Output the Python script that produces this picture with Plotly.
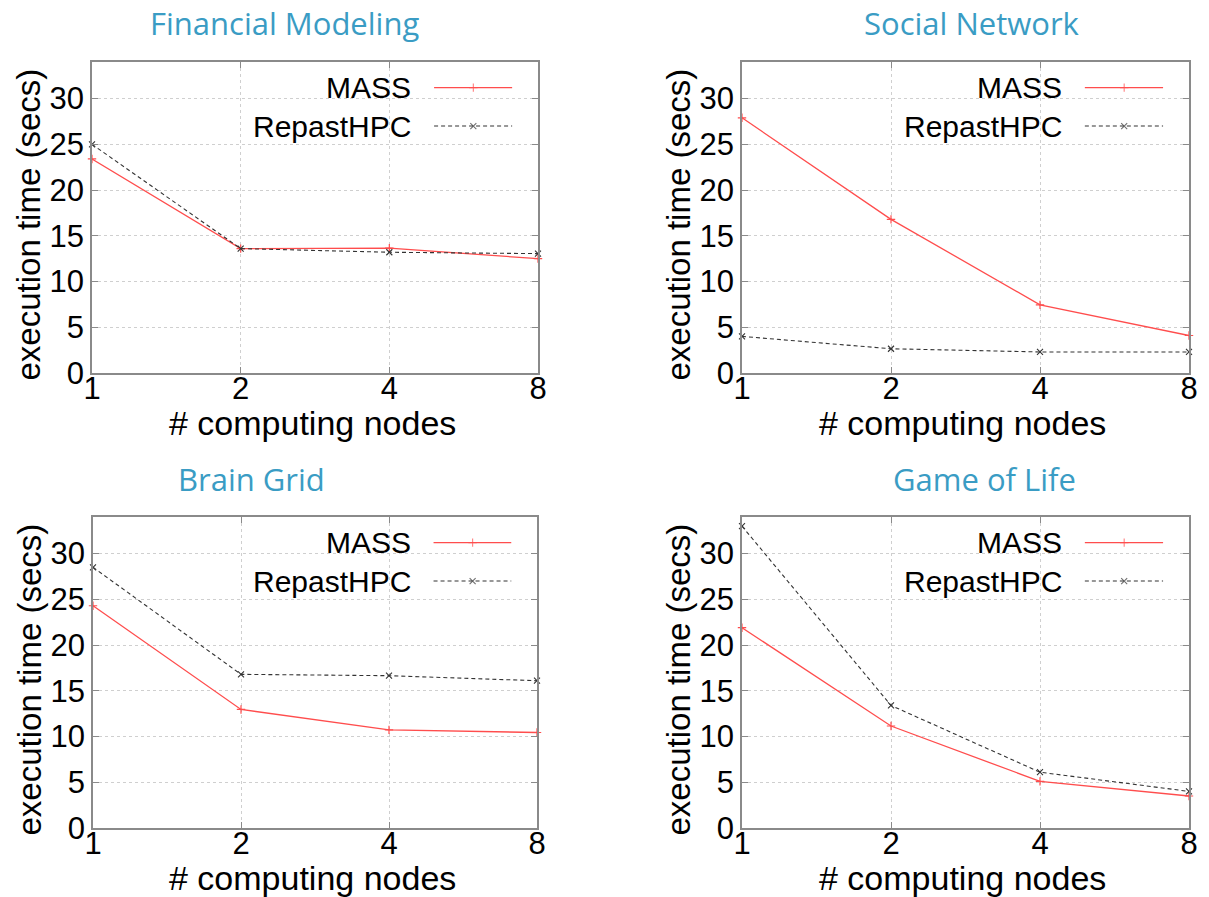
import math
import plotly.graph_objects as go

nodes = [1, 2, 4, 8]
titles = ["Financial Modeling", "Social Network", "Brain Grid", "Game of Life"]
mass = [
    [23.4, 13.6, 13.65, 12.5],
    [27.9, 16.8, 7.45, 4.1],
    [24.3, 12.96, 10.73, 10.44],
    [21.9, 11.15, 5.1, 3.5],
]
repast = [
    [25.0, 13.6, 13.2, 13.05],
    [4.0, 2.65, 2.3, 2.3],
    [28.5, 16.8, 16.65, 16.1],
    [33.0, 13.4, 6.1, 4.0],
]
y_ticks = [0, 5, 10, 15, 20, 25, 30]
x_ticks = [1, 2, 4, 8]

W, H = 1209, 897
# plot-area pixel boxes (left, top, right, bottom)
boxes = [(92, 62, 538, 373), (742, 62, 1189, 373), (93, 517, 537, 828), (742, 517, 1189, 828)]
title_pos = [(284, 23), (972, 23), (251, 479), (984, 479)]

RED = "#ff4d4d"
DARK = "#333333"
FRAME = "#8a8a8a"
TITLE_C = "#3a9cc4"
FONT = "Liberation Sans, Arial, sans-serif"
FS_TICK = 31
FS_LEG = 30
FS_TITLE = 34
DASH = "4px,3px"

fig = go.Figure()
LOGMAX = math.log10(8)

for i in range(4):
    sfx = "" if i == 0 else str(i + 1)
    xa, ya = "x" + sfx, "y" + sfx
    l, t, r, b = boxes[i]
    fig.add_trace(go.Scatter(x=nodes, y=mass[i], xaxis=xa, yaxis=ya, mode="lines+markers",
                             line=dict(color=RED, width=1.3),
                             marker=dict(symbol="cross-thin", size=6, line=dict(color=RED, width=1.2)),
                             showlegend=False, cliponaxis=False))
    fig.add_trace(go.Scatter(x=nodes, y=repast[i], xaxis=xa, yaxis=ya, mode="lines+markers",
                             line=dict(color=DARK, width=1.1, dash=DASH),
                             marker=dict(symbol="x-thin", size=6, line=dict(color=DARK, width=1.1)),
                             showlegend=False, cliponaxis=False))
    # legend samples (positions as fractions of the log axis span)
    for yy, col, dash, sym in [(31.2, RED, "solid", "cross-thin"), (27.0, DARK, DASH, "x-thin")]:
        xs = [10 ** (f * LOGMAX) for f in (0.767, 0.855, 0.942)]
        fig.add_trace(go.Scatter(x=xs, y=[yy] * 3, xaxis=xa, yaxis=ya, mode="lines+markers",
                                 line=dict(color=col, width=1.3 if dash == "solid" else 1.1, dash=dash),
                                 marker=dict(symbol=sym, size=[0, 6, 0], line=dict(color=col, width=1.1)),
                                 showlegend=False, hoverinfo="skip"))
    axis_common = dict(showline=True, mirror="ticks", linecolor=FRAME, linewidth=1.5,
                       ticks="inside", ticklen=6, tickcolor=FRAME, tickwidth=1,
                       showgrid=True, gridcolor="#cfcfcf", griddash="dot", gridwidth=1,
                       zeroline=False, automargin=False,
                       tickfont=dict(family=FONT, size=FS_TICK, color="black"))
    fig.layout["xaxis" + sfx] = dict(domain=[l / W, r / W], anchor=ya, type="log",
                                     range=[0, LOGMAX], tickvals=x_ticks,
                                     ticktext=[str(v) for v in x_ticks],
                                     ticklabelstandoff=-13, **axis_common)
    fig.layout["yaxis" + sfx] = dict(domain=[1 - b / H, 1 - t / H], anchor=xa,
                                     range=[0, 34], tickvals=y_ticks, **axis_common)
    # legend white box above grid (x in log units as plotly requires for log axes)
    fig.add_shape(type="rect", xref=xa, yref=ya, x0=0.36 * LOGMAX, x1=0.995 * LOGMAX, y0=24.8, y1=33.9,
                  fillcolor="white", line=dict(width=0), layer="between")
    fig.add_annotation(xref=xa + " domain", yref=ya, x=0.72, y=31.2, text="MASS", showarrow=False,
                       xanchor="right", yanchor="middle", font=dict(family=FONT, size=FS_LEG, color="black"))
    fig.add_annotation(xref=xa + " domain", yref=ya, x=0.72, y=27.0, text="RepastHPC", showarrow=False,
                       xanchor="right", yanchor="middle", font=dict(family=FONT, size=FS_LEG, color="black"))
    # axis titles
    fig.add_annotation(xref="paper", yref="paper", x=((l + r) / 2 - 3) / W, y=1 - (b + 50) / H,
                       text="# computing nodes", showarrow=False, xanchor="center", yanchor="middle",
                       font=dict(family=FONT, size=FS_TITLE, color="black"))
    fig.add_annotation(xref="paper", yref="paper", x=(l - 64) / W, y=1 - ((t + b) / 2 + 7) / H,
                       text="execution time (secs)", textangle=-90, showarrow=False,
                       xanchor="center", yanchor="middle",
                       font=dict(family=FONT, size=FS_TITLE - 1, color="black"))
    # panel title
    tx, ty = title_pos[i]
    fig.add_annotation(xref="paper", yref="paper", x=tx / W, y=1 - ty / H, text=titles[i],
                       showarrow=False, xanchor="center", yanchor="middle",
                       font=dict(family="Open Sans, sans-serif", size=31, color=TITLE_C))

fig.update_layout(width=W, height=H, margin=dict(l=0, r=0, t=0, b=0, autoexpand=False),
                  paper_bgcolor="white", plot_bgcolor="white", showlegend=False)
fig.write_html("out.html", config={"displayModeBar": False},
               post_script="document.body.style.margin='0px';"
                           "document.body.style.overflow='hidden';"
                           "document.documentElement.style.overflow='hidden';")
